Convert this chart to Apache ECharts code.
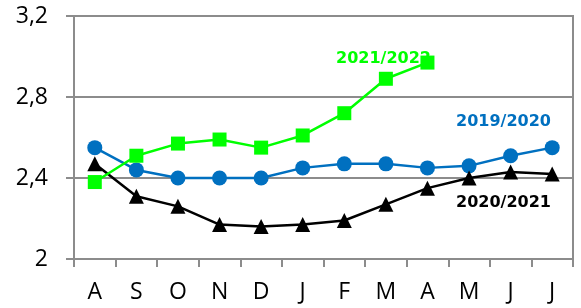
<!DOCTYPE html>
<html>
<head>
<meta charset="utf-8">
<script src="https://cdn.jsdelivr.net/npm/echarts@6/dist/echarts.min.js"></script>
<style>
  html, body { margin: 0; padding: 0; background: #fff; }
  #chart { width: 581px; height: 308px; }
</style>
</head>
<body>
<div id="chart"></div>
<script>
const months = ['A', 'S', 'O', 'N', 'D', 'J', 'F', 'M', 'A', 'M', 'J', 'J']
const s1920 = [2.55, 2.44, 2.40, 2.40, 2.40, 2.45, 2.47, 2.47, 2.45, 2.46, 2.51, 2.55]
const s2021 = [2.47, 2.31, 2.26, 2.17, 2.16, 2.17, 2.19, 2.27, 2.35, 2.40, 2.43, 2.42]
const s2122 = [2.38, 2.51, 2.57, 2.59, 2.55, 2.61, 2.72, 2.89, 2.97]

const gray = '#8c8c8c'
const tickFont = 'Open Sans'
const labelFont = 'DejaVu Sans'

const chart = echarts.init(document.getElementById('chart'))

const line = (name, data, color, symbol, size) => ({
  type: 'line',
  name,
  data,
  symbol,
  symbolSize: size,
  color,
  z: 5,
  lineStyle: { width: 2.5, color },
  itemStyle: { color },
  animation: false,
})

// series name labels sit inside the plot, drawn below the lines
const nameLabel = (text, x, y, fill) => ({
  type: 'text', left: x, top: y, z: 1,
  style: { text, fill, font: 'bold 16px ' + labelFont },
})

chart.setOption({
  grid: {
    left: 74, right: 8, top: 16, bottom: 49,
    show: true, borderColor: gray, borderWidth: 2,
  },
  xAxis: {
    type: 'category',
    data: months,
    boundaryGap: true,
    axisLine: { lineStyle: { color: gray, width: 2 } },
    axisTick: { show: true, interval: 0, length: 8, lineStyle: { color: gray, width: 2 } },
    axisLabel: { interval: 0, margin: 22, fontSize: 23, color: '#000', fontFamily: tickFont },
  },
  yAxis: {
    type: 'value',
    min: 2, max: 3.2, interval: 0.4,
    axisLine: { show: true, lineStyle: { color: gray, width: 2 } },
    axisTick: { show: true, length: 8, lineStyle: { color: gray, width: 2 } },
    splitLine: { lineStyle: { color: gray, width: 2 } },
    axisLabel: {
      margin: 26, fontSize: 23, color: '#000', fontFamily: tickFont,
      formatter: v => (Math.round(v * 10) / 10).toString().replace('.', ','),
    },
  },
  graphic: [
    nameLabel('2021/2022', 336, 51, '#00ff00'),
    nameLabel('2019/2020', 456, 114, '#0070c0'),
    nameLabel('2020/2021', 456, 195, '#000000'),
  ],
  series: [
    line('2019/2020', s1920, '#0070c0', 'circle', 15),
    line('2020/2021', s2021, '#000000', 'triangle', 15),
    line('2021/2022', s2122, '#00ff00', 'rect', 14),
  ],
})
</script>
</body>
</html>
